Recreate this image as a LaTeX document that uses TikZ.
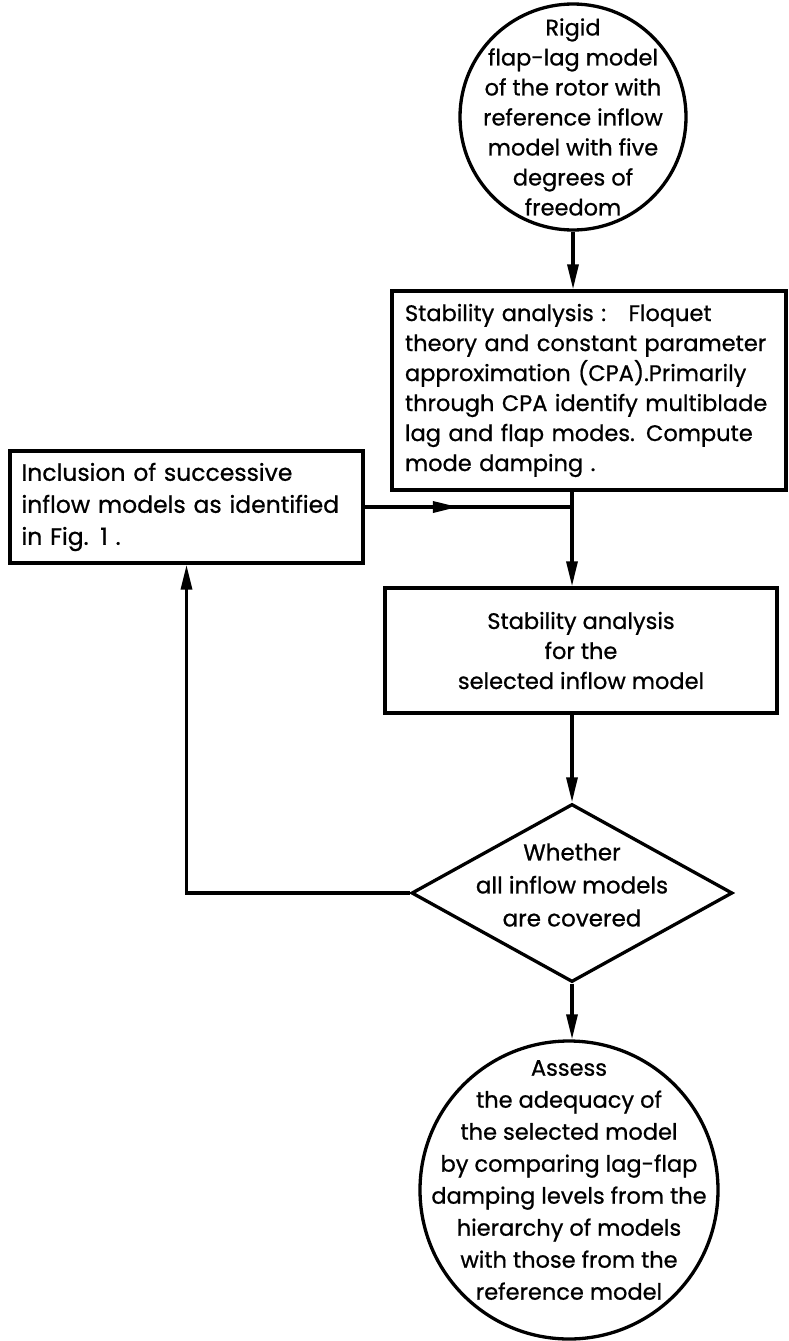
\documentclass[tikz,border=0pt]{standalone}
\usepackage{fontspec}
\setmainfont{Poppins}[FakeBold=0.8]
\usetikzlibrary{shapes.geometric,arrows.meta,decorations.markings}

\begin{document}
\begin{tikzpicture}[x=1pt,y=-1pt]
        \tikzstyle{every node}=[font=\fontsize{22.5}{30}\selectfont]
        \tikzstyle{wire}=[line width=3.3pt]
        \tikzstyle{flow}=[wire,-{Triangle[length=25pt,width=11pt]}]
        \tikzstyle{midflow}=[wire,postaction={decorate},decoration={markings,mark=at position 0.45 with {\arrow{Triangle[length=25pt,width=11pt]}}}]
        \tikzstyle{stepbox}=[draw,rectangle,line width=3.3pt,inner sep=0pt]
        \tikzstyle{bubble}=[draw,circle,line width=3.3pt,inner sep=0pt]
        \tikzstyle{query}=[draw,diamond,line width=3.3pt,inner sep=0pt]

        \useasboundingbox (0,0) rectangle (788,1341);

        \node[bubble,minimum size=226pt,label={[align=center]center:Rigid\\flap-lag model\\of the rotor with\\reference inflow\\model with five\\degrees of\\freedom}] (rigid) at (573,117) {};

        \node[stepbox,minimum width=394pt,minimum height=199pt,text width=368pt,align=left] (anal) at (589,390.5)
            {Stability analysis :\quad Floquet\\theory and constant parameter\\approximation (CPA).Primarily\\through CPA identify multiblade\\lag and flap modes. Compute\\mode damping .};

        \node[stepbox,minimum width=353pt,minimum height=112pt,text width=330pt,align=left,font=\fontsize{23.5}{32}\selectfont] (incl) at (186.5,507)
            {Inclusion of successive\\inflow models as identified\\in Fig. 1 .};

        \node[stepbox,minimum width=392pt,minimum height=125pt,align=center] (stab) at (581,650.5)
            {Stability analysis\\for the\\selected inflow model};

        \node[query,minimum width=321pt,minimum height=178pt,label={[align=center,yshift=8pt,font=\fontsize{23}{33}\selectfont]center:Whether\\all inflow models\\are covered}] (cover) at (572,893) {};

        \node[bubble,minimum size=298pt,label={[align=center,yshift=10pt,font=\fontsize{22.5}{32}\selectfont]center:Assess\\the adequacy of\\the selected model\\by comparing lag-flap\\damping levels from the\\hierarchy of models\\with those from the\\reference model}] (assess) at (569,1190) {};

        \coordinate (join) at (572,507);

        \draw[flow] (rigid.south) -- (rigid.south |- anal.north);
        \draw[wire] (anal.south -| join) -- (join);
        \draw[midflow] (incl.east) -- (join);
        \draw[flow] (join) -- (join |- stab.north);
        \draw[flow] (stab.south -| join) -- (cover.north);
        \draw[flow] (cover.south) -- (cover.south |- assess.north);
        \draw[flow] (cover.west) -| (incl.south);

\end{tikzpicture}
\end{document}
